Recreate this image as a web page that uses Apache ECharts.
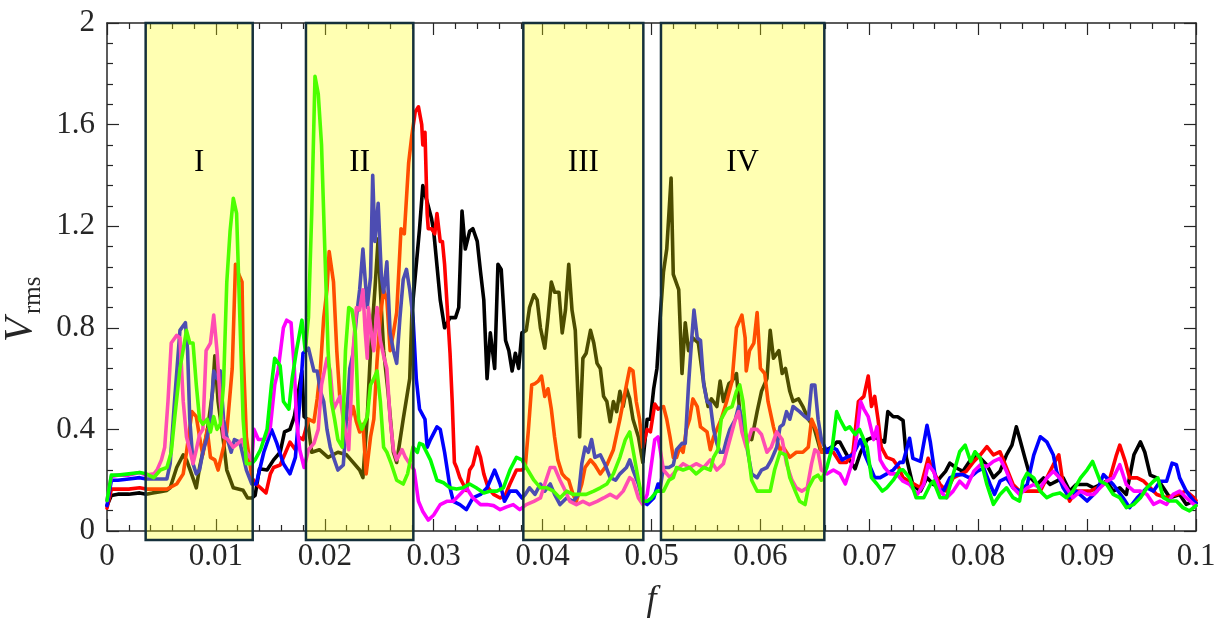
<!DOCTYPE html>
<html>
<head>
<meta charset="utf-8">
<script src="https://cdn.jsdelivr.net/npm/echarts@6/dist/echarts.min.js"></script>
<style>
  html, body { margin: 0; padding: 0; background: #ffffff; }
  #chart { width: 1223px; height: 624px; }
</style>
</head>
<body>
<div id="chart"></div>
<script>
// Axis ranges
const fRange = [0, 0.1, 0.01];      // min, max, major step
const vRange = [0, 2, 0.4];

// Highlighted frequency bands
const bandStart = [0.00355, 0.01827, 0.03823, 0.05087];
const bandEnd   = [0.01338, 0.02813, 0.04925, 0.06587];
const bandNames = ['I', 'II', 'III', 'IV'];
const bandFloor = -0.035;
const bandLabelV = 1.45;

// V_rms(f) for the five runs, [f, V_rms]
const blackRun = [
  [0,0.10],[0.0004,0.14],[0.001,0.145],[0.002,0.145],[0.003,0.15],[0.0036,0.145],
  [0.0042,0.15],[0.0049,0.155],[0.0055,0.16],[0.0058,0.17],[0.0064,0.25],[0.0070,0.30],[0.0073,0.28],[0.0078,0.22],[0.0082,0.17],[0.0085,0.25],[0.0092,0.39],[0.0097,0.55],[0.0099,0.69],[0.0102,0.51],[0.0107,0.35],[0.011,0.24],[0.0116,0.17],[0.0125,0.16],[0.0129,0.13],[0.0133,0.13],
  [0.0136,0.14],[0.014,0.245],[0.0147,0.24],[0.0153,0.28],[0.0159,0.31],[0.0163,0.39],[0.0168,0.40],[0.0172,0.45],[0.0177,0.58],[0.0179,0.63],[0.0181,0.45],[0.0184,0.44],
  [0.0188,0.31],[0.0195,0.32],[0.0203,0.29],[0.0212,0.31],[0.022,0.30],[0.0226,0.27],[0.0232,0.24],[0.0235,0.21],[0.0239,0.45],[0.0242,0.71],[0.0246,0.95],[0.0249,1.15],[0.0251,0.95],[0.0254,0.71],[0.0258,0.55],[0.0263,0.31],[0.0266,0.27],[0.0272,0.44],[0.0278,0.60],[0.028,0.86],
  [0.0287,1.19],[0.029,1.36],[0.0298,1.23],[0.03,1.18],[0.0306,0.91],[0.031,0.80],[0.0315,0.84],[0.032,0.84],[0.0323,0.88],[0.0326,1.26],[0.0329,1.11],[0.0333,1.18],[0.0336,1.19],[0.034,1.14],[0.0343,1.02],[0.0346,0.91],[0.0349,0.60],[0.0352,0.78],[0.0356,0.64],[0.0359,1.05],[0.0362,1.03],[0.0366,0.75],[0.0369,0.71],[0.0372,0.63],[0.0375,0.70],[0.0378,0.64],[0.0381,0.78],
  [0.0385,0.79],[0.0388,0.88],[0.0392,0.93],[0.0395,0.91],[0.0398,0.80],[0.0402,0.72],[0.0405,0.84],[0.0408,0.98],[0.0411,0.94],[0.0415,0.94],[0.0418,0.78],[0.0421,0.87],[0.0424,1.05],[0.0427,0.87],[0.043,0.79],[0.0434,0.37],[0.0437,0.68],[0.044,0.70],[0.0444,0.79],[0.0447,0.74],[0.045,0.66],[0.0453,0.64],[0.0456,0.53],[0.0459,0.51],[0.0462,0.43],[0.0465,0.51],[0.0468,0.47],[0.0471,0.55],[0.0474,0.49],[0.0477,0.56],[0.048,0.52],[0.0483,0.44],[0.0488,0.37],[0.0492,0.27],
  [0.0496,0.44],[0.0499,0.44],[0.0502,0.56],[0.0505,0.64],[0.0508,0.84],
  [0.0511,1.02],[0.0514,1.11],[0.0518,1.39],[0.052,1.01],[0.0525,0.95],[0.0528,0.62],[0.0531,0.82],[0.0534,0.71],[0.0538,0.76],[0.0543,0.74],[0.0548,0.58],[0.0552,0.49],[0.0555,0.52],[0.056,0.49],[0.0563,0.59],[0.0566,0.51],[0.0571,0.58],[0.0574,0.59],[0.0578,0.62],[0.0581,0.47],[0.0587,0.37],[0.0592,0.36],[0.0597,0.47],[0.0601,0.55],[0.0606,0.60],[0.0609,0.79],[0.0612,0.68],[0.0617,0.71],[0.062,0.62],[0.0623,0.64],[0.0627,0.55],[0.063,0.51],[0.0635,0.52],[0.0639,0.49],[0.0644,0.44],[0.0649,0.41],[0.0655,0.32],[0.0659,0.32],
  [0.0661,0.32],[0.0666,0.33],[0.067,0.35],[0.0673,0.35],[0.0678,0.31],[0.0682,0.28],[0.0687,0.245],[0.0692,0.31],[0.0698,0.36],[0.0704,0.37],[0.071,0.36],[0.0714,0.35],[0.0717,0.47],[0.0722,0.45],[0.0726,0.45],[0.0731,0.435],[0.0734,0.29],[0.074,0.18],[0.0747,0.157],[0.0753,0.21],[0.0759,0.183],[0.0765,0.21],[0.077,0.235],[0.0774,0.267],[0.078,0.248],[0.0786,0.235],[0.0792,0.274],[0.0799,0.30],[0.0808,0.26],[0.0814,0.21],[0.082,0.235],[0.0826,0.30],[0.0831,0.338],[0.0835,0.41],[0.0838,0.365],[0.0843,0.286],[0.0848,0.21],[0.0854,0.183],[0.086,0.209],[0.0866,0.183],[0.0872,0.196],[0.0878,0.209],[0.0884,0.157],[0.089,0.183],[0.09,0.183],[0.0906,0.17],[0.0912,0.183],[0.0918,0.196],[0.0924,0.157],[0.093,0.17],[0.0936,0.144],[0.0943,0.30],[0.0949,0.351],[0.0953,0.31],[0.0958,0.22],[0.0964,0.209],[0.097,0.17],[0.0976,0.131],[0.0985,0.144],[0.0991,0.105],[0.0998,0.118],[0.1,0.11]
];

const redRun = [
  [0,0.09],[0.0004,0.165],[0.001,0.165],[0.002,0.165],[0.003,0.17],[0.0036,0.165],
  [0.0042,0.165],[0.0055,0.165],[0.0064,0.185],[0.007,0.225],[0.0073,0.31],[0.0078,0.47],[0.0082,0.45],[0.0085,0.37],[0.0088,0.30],[0.0092,0.40],[0.0095,0.29],[0.0099,0.28],[0.0102,0.24],[0.0107,0.33],[0.011,0.39],[0.0115,0.64],[0.0118,1.05],[0.0121,1.01],[0.0124,0.98],[0.0125,0.71],[0.0128,0.37],[0.0133,0.21],
  [0.0137,0.185],[0.0141,0.17],[0.0146,0.15],[0.015,0.225],[0.0153,0.25],[0.0159,0.26],[0.0165,0.32],[0.0168,0.35],[0.0173,0.32],[0.0176,0.37],[0.018,0.36],
  [0.0185,0.44],[0.019,0.43],[0.0193,0.52],[0.0196,0.64],[0.0199,0.84],[0.0202,0.95],[0.0204,1.10],[0.0208,0.98],[0.0211,0.71],[0.0214,0.51],[0.0217,0.51],[0.022,0.44],[0.0223,0.44],[0.0226,0.49],[0.0229,0.43],[0.0232,0.39],[0.0235,0.42],[0.0238,0.225],[0.0242,0.37],[0.0245,0.44],[0.0248,0.67],[0.0251,0.84],[0.0254,0.95],[0.0257,0.91],[0.026,0.71],[0.0263,0.78],[0.0266,0.86],[0.027,1.19],[0.0273,1.17],[0.0277,1.45],[0.028,1.56],
  [0.0283,1.65],[0.0286,1.67],[0.0289,1.60],[0.029,1.52],[0.0292,1.57],[0.0294,1.25],[0.0295,1.19],[0.0298,1.19],[0.0301,1.17],[0.0303,1.25],[0.0306,1.14],[0.0308,1.14],[0.031,1.05],[0.0315,0.70],[0.0317,0.51],[0.0319,0.27],[0.0321,0.25],[0.0324,0.21],[0.0327,0.185],[0.033,0.16],[0.0333,0.24],[0.0336,0.26],[0.034,0.33],[0.0343,0.29],[0.0346,0.225],[0.035,0.17],[0.0355,0.144],[0.0361,0.13],[0.0366,0.144],[0.037,0.185],[0.0376,0.24],[0.0381,0.24],
  [0.0384,0.25],[0.0387,0.40],[0.039,0.575],[0.0393,0.58],[0.0396,0.59],[0.0399,0.61],[0.0402,0.53],[0.0405,0.56],[0.0408,0.48],[0.0411,0.37],[0.0414,0.28],[0.0418,0.225],[0.0421,0.21],[0.0424,0.20],[0.0428,0.144],[0.0431,0.117],[0.0436,0.185],[0.0439,0.25],[0.0444,0.28],[0.0448,0.26],[0.0453,0.225],[0.0459,0.26],[0.0465,0.32],[0.0471,0.44],[0.0477,0.575],[0.048,0.64],[0.0483,0.63],[0.0486,0.51],[0.0489,0.44],[0.0492,0.33],
  [0.0496,0.40],[0.0499,0.39],[0.0503,0.50],[0.0506,0.48],
  [0.0511,0.49],[0.0514,0.44],[0.0517,0.37],[0.052,0.29],[0.0523,0.29],[0.0526,0.33],[0.0529,0.31],[0.0532,0.40],[0.0535,0.44],[0.0538,0.52],[0.0542,0.49],[0.0545,0.41],[0.0548,0.40],[0.0551,0.39],[0.0554,0.32],[0.0557,0.37],[0.0561,0.41],[0.0564,0.44],[0.0569,0.51],[0.0574,0.59],[0.0578,0.80],[0.0583,0.85],[0.0586,0.76],[0.0587,0.63],[0.059,0.71],[0.0594,0.74],[0.0597,0.86],[0.06,0.64],[0.0604,0.62],[0.0607,0.51],[0.0612,0.41],[0.0615,0.36],[0.0618,0.32],[0.0621,0.33],[0.0627,0.29],[0.0633,0.31],[0.0639,0.31],[0.0644,0.33],[0.0647,0.44],[0.0652,0.39],[0.0656,0.31],
  [0.0661,0.31],[0.0667,0.31],[0.0673,0.27],[0.0679,0.27],[0.0685,0.31],[0.069,0.51],[0.0695,0.53],[0.0699,0.61],[0.0702,0.49],[0.0705,0.53],[0.0708,0.44],[0.0711,0.33],[0.0716,0.29],[0.0722,0.28],[0.0727,0.25],[0.0731,0.21],
  [0.0735,0.20],[0.0747,0.17],[0.0754,0.286],[0.0759,0.235],[0.0765,0.183],[0.0771,0.157],[0.0777,0.209],[0.0783,0.222],[0.0789,0.235],[0.0796,0.274],[0.0802,0.30],[0.0808,0.332],[0.0814,0.30],[0.082,0.312],[0.0826,0.248],[0.0832,0.183],[0.0838,0.157],[0.0845,0.157],[0.0851,0.157],[0.0857,0.157],[0.0863,0.209],[0.0869,0.261],[0.0874,0.30],[0.0878,0.183],[0.0884,0.118],[0.089,0.157],[0.0897,0.157],[0.0903,0.157],[0.0909,0.17],[0.0915,0.183],[0.0921,0.209],[0.0927,0.30],[0.093,0.338],[0.0935,0.274],[0.0939,0.209],[0.0946,0.209],[0.0952,0.196],[0.0958,0.17],[0.0964,0.144],[0.0973,0.131],[0.0982,0.144],[0.0991,0.157],[0.0998,0.131],[0.1,0.12]
];

const blueRun = [
  [0,0.10],[0.0004,0.20],[0.001,0.20],[0.002,0.205],[0.003,0.21],[0.0036,0.205],
  [0.0042,0.205],[0.0055,0.205],[0.0058,0.265],[0.0062,0.51],[0.0067,0.79],[0.0072,0.82],[0.0074,0.71],[0.0076,0.44],[0.0079,0.265],[0.0082,0.225],[0.0085,0.24],[0.0088,0.31],[0.0092,0.37],[0.0095,0.44],[0.0098,0.63],[0.0101,0.60],[0.0104,0.63],[0.0107,0.44],[0.011,0.37],[0.0114,0.31],[0.0117,0.36],[0.0122,0.35],[0.0128,0.24],[0.0133,0.185],
  [0.0137,0.185],[0.0144,0.31],[0.0148,0.36],[0.0151,0.40],[0.0156,0.345],[0.0162,0.265],[0.0168,0.225],[0.0173,0.29],[0.0177,0.51],[0.018,0.70],
  [0.0185,0.72],[0.019,0.63],[0.0193,0.63],[0.0196,0.55],[0.0199,0.51],[0.0202,0.40],[0.0205,0.33],[0.0208,0.29],[0.0212,0.24],[0.0217,0.26],[0.0223,0.64],[0.0226,0.70],[0.0229,0.84],[0.0232,0.95],[0.0235,1.11],[0.0239,0.88],[0.0242,1.0],[0.0244,1.40],[0.0246,1.14],[0.0249,1.29],[0.0252,1.0],[0.0254,0.94],[0.0257,1.06],[0.026,0.78],[0.0263,0.71],[0.0266,0.66],[0.0269,0.84],[0.0272,0.99],[0.0275,1.03],[0.0278,0.95],[0.0281,0.84],
  [0.0284,0.60],[0.0287,0.48],[0.0292,0.44],[0.0294,0.33],[0.0297,0.36],[0.0303,0.41],[0.0306,0.40],[0.031,0.31],[0.0315,0.17],[0.0318,0.117],[0.0324,0.104],[0.033,0.084],[0.0336,0.13],[0.0343,0.144],[0.0349,0.17],[0.0352,0.20],[0.0356,0.24],[0.0361,0.185],[0.0365,0.117],[0.037,0.157],[0.0376,0.157],[0.0381,0.13],
  [0.0384,0.144],[0.0388,0.17],[0.0393,0.144],[0.0398,0.185],[0.0402,0.157],[0.0407,0.185],[0.0411,0.144],[0.0416,0.104],[0.0422,0.13],[0.0428,0.117],[0.0433,0.144],[0.0436,0.265],[0.0439,0.33],[0.0442,0.31],[0.0445,0.36],[0.0448,0.29],[0.0453,0.30],[0.0457,0.265],[0.0462,0.21],[0.0467,0.20],[0.0471,0.225],[0.0477,0.25],[0.048,0.28],[0.0483,0.24],[0.0488,0.185],[0.0492,0.117],
  [0.0496,0.104],[0.0502,0.13],[0.0506,0.185],[0.0508,0.17],
  [0.0511,0.25],[0.0516,0.25],[0.052,0.26],[0.0523,0.32],[0.0528,0.345],[0.0531,0.345],[0.0534,0.575],[0.0537,0.76],[0.0539,0.87],[0.0542,0.76],[0.0545,0.75],[0.0548,0.575],[0.0551,0.51],[0.0554,0.50],[0.0557,0.40],[0.056,0.345],[0.0563,0.31],[0.0566,0.31],[0.0569,0.36],[0.0572,0.40],[0.0577,0.44],[0.058,0.49],[0.0583,0.44],[0.0587,0.345],[0.0592,0.225],[0.0597,0.21],[0.0601,0.24],[0.0606,0.25],[0.061,0.28],[0.0615,0.33],[0.0618,0.41],[0.0621,0.42],[0.0624,0.47],[0.0627,0.44],[0.063,0.49],[0.0636,0.47],[0.0641,0.45],[0.0644,0.44],[0.0647,0.575],[0.065,0.575],[0.0653,0.44],[0.0656,0.36],
  [0.0661,0.31],[0.0665,0.33],[0.067,0.32],[0.0675,0.28],[0.0679,0.29],[0.0685,0.30],[0.0692,0.36],[0.0696,0.30],[0.0701,0.25],[0.0705,0.21],[0.071,0.21],[0.0716,0.225],[0.0722,0.24],[0.0728,0.27],
  [0.0731,0.27],[0.0737,0.365],[0.074,0.286],[0.0747,0.274],[0.0753,0.416],[0.0756,0.351],[0.0759,0.261],[0.0762,0.17],[0.0768,0.157],[0.0774,0.209],[0.078,0.222],[0.0786,0.222],[0.0792,0.209],[0.0799,0.235],[0.0805,0.248],[0.0811,0.183],[0.0815,0.144],[0.082,0.196],[0.0826,0.209],[0.0832,0.17],[0.0838,0.157],[0.0845,0.183],[0.0851,0.299],[0.0857,0.371],[0.0863,0.351],[0.0869,0.299],[0.0872,0.235],[0.0878,0.17],[0.0884,0.131],[0.089,0.157],[0.09,0.118],[0.0909,0.157],[0.0915,0.222],[0.0924,0.183],[0.0933,0.131],[0.0939,0.092],[0.0946,0.131],[0.0955,0.17],[0.0961,0.157],[0.0967,0.196],[0.0973,0.196],[0.0978,0.267],[0.0982,0.261],[0.0985,0.209],[0.0991,0.157],[0.0998,0.118],[0.1,0.11]
];

const magentaRun = [
  [0,0.12],[0.0004,0.215],[0.001,0.22],[0.002,0.22],[0.003,0.23],[0.0036,0.22],
  [0.0043,0.225],[0.0046,0.24],[0.005,0.28],[0.0053,0.33],[0.0056,0.51],[0.0059,0.74],[0.0064,0.77],[0.0067,0.76],[0.007,0.51],[0.0073,0.37],[0.0076,0.32],[0.0079,0.265],[0.0082,0.32],[0.0085,0.38],[0.0088,0.40],[0.0091,0.71],[0.0095,0.74],[0.0098,0.85],[0.0101,0.71],[0.0104,0.51],[0.0107,0.37],[0.0111,0.36],[0.0116,0.33],[0.0119,0.34],[0.0124,0.36],[0.0128,0.31],[0.0133,0.28],
  [0.0135,0.40],[0.0139,0.36],[0.0145,0.36],[0.015,0.41],[0.0154,0.575],[0.0157,0.63],[0.0162,0.80],[0.0165,0.83],[0.0169,0.82],[0.0172,0.64],[0.0174,0.44],[0.0177,0.32],[0.0181,0.25],
  [0.0185,0.32],[0.019,0.345],[0.0194,0.40],[0.0197,0.575],[0.0202,0.68],[0.0205,0.63],[0.0208,0.48],[0.0214,0.53],[0.0217,0.44],[0.0222,0.32],[0.0226,0.71],[0.0229,0.88],[0.0232,0.87],[0.0235,0.95],[0.0237,0.79],[0.0239,0.68],[0.024,0.88],[0.0243,0.77],[0.0245,0.71],[0.0248,0.88],[0.0251,0.75],[0.0254,0.69],[0.0257,0.64],[0.026,0.44],[0.0263,0.32],[0.0266,0.28],[0.0271,0.32],[0.0274,0.29],[0.0278,0.265],
  [0.0282,0.24],[0.0286,0.117],[0.029,0.077],[0.0295,0.043],[0.03,0.063],[0.0306,0.104],[0.0312,0.117],[0.0318,0.117],[0.0324,0.144],[0.033,0.17],[0.0336,0.13],[0.0343,0.104],[0.0349,0.104],[0.0355,0.10],[0.0361,0.084],[0.0367,0.095],[0.0373,0.104],[0.0379,0.084],
  [0.0385,0.104],[0.0392,0.117],[0.0398,0.13],[0.0402,0.185],[0.0407,0.25],[0.0411,0.25],[0.0416,0.20],[0.0421,0.157],[0.0425,0.117],[0.0431,0.104],[0.0437,0.117],[0.0443,0.104],[0.045,0.117],[0.0456,0.13],[0.0462,0.144],[0.0468,0.13],[0.0474,0.157],[0.048,0.21],[0.0483,0.20],[0.0488,0.13],[0.0492,0.104],
  [0.0496,0.144],[0.05,0.265],[0.0503,0.36],[0.0506,0.37],
  [0.0508,0.32],[0.0511,0.24],[0.0517,0.21],[0.0523,0.24],[0.0529,0.265],[0.0535,0.25],[0.0541,0.265],[0.0548,0.25],[0.0554,0.28],[0.056,0.24],[0.0566,0.265],[0.0572,0.36],[0.0577,0.44],[0.058,0.47],[0.0583,0.39],[0.0587,0.33],[0.0592,0.40],[0.0597,0.40],[0.0601,0.38],[0.0606,0.31],[0.061,0.33],[0.0615,0.39],[0.062,0.36],[0.0624,0.265],[0.0629,0.20],[0.0633,0.17],[0.0638,0.157],[0.0643,0.17],[0.0647,0.265],[0.065,0.32],[0.0653,0.31],[0.0656,0.24],
  [0.0661,0.225],[0.0667,0.24],[0.0673,0.225],[0.0678,0.185],[0.0685,0.28],[0.0688,0.36],[0.0692,0.51],[0.0695,0.48],[0.0699,0.45],[0.0704,0.36],[0.0707,0.41],[0.071,0.28],[0.0714,0.25],[0.0719,0.225],[0.0725,0.225],
  [0.0731,0.196],[0.0737,0.183],[0.0744,0.144],[0.075,0.183],[0.0754,0.261],[0.0759,0.235],[0.0765,0.157],[0.0771,0.131],[0.0777,0.157],[0.0783,0.196],[0.0789,0.17],[0.0796,0.235],[0.0802,0.261],[0.0808,0.254],[0.0814,0.274],[0.082,0.286],[0.0826,0.235],[0.0832,0.17],[0.0838,0.144],[0.0845,0.17],[0.0851,0.183],[0.0857,0.17],[0.0863,0.209],[0.0869,0.235],[0.0875,0.209],[0.0881,0.17],[0.0887,0.131],[0.0894,0.157],[0.09,0.144],[0.0906,0.144],[0.0912,0.17],[0.0918,0.196],[0.0924,0.209],[0.093,0.261],[0.0936,0.183],[0.0943,0.157],[0.0949,0.157],[0.0955,0.144],[0.0961,0.105],[0.0967,0.118],[0.0973,0.105],[0.0979,0.144],[0.0985,0.157],[0.0991,0.131],[0.0998,0.105],[0.1,0.10]
];

const greenRun = [
  [0,0.12],[0.0004,0.22],[0.001,0.22],[0.002,0.225],[0.003,0.23],[0.0036,0.225],
  [0.0043,0.21],[0.0049,0.24],[0.0055,0.25],[0.0059,0.31],[0.0062,0.44],[0.0067,0.64],[0.0073,0.79],[0.0076,0.74],[0.0079,0.74],[0.0082,0.575],[0.0085,0.44],[0.0088,0.42],[0.0092,0.44],[0.0095,0.39],[0.0098,0.45],[0.0101,0.40],[0.0104,0.42],[0.0107,0.575],[0.011,0.98],[0.0113,1.18],[0.0116,1.31],[0.0119,1.25],[0.0122,0.84],[0.0125,0.44],[0.0128,0.265],[0.0133,0.265],
  [0.0136,0.28],[0.0141,0.32],[0.0147,0.40],[0.0151,0.575],[0.0154,0.68],[0.0159,0.65],[0.0162,0.51],[0.0167,0.48],[0.017,0.60],[0.0174,0.71],[0.0179,0.83],[0.0182,0.71],
  [0.0185,0.84],[0.0188,1.25],[0.0191,1.79],[0.0194,1.72],[0.0197,1.52],[0.02,1.11],[0.0203,0.71],[0.0206,0.51],[0.0209,0.44],[0.0212,0.36],[0.0216,0.33],[0.0219,0.71],[0.0222,0.88],[0.0225,0.87],[0.0228,0.78],[0.0231,0.44],[0.0234,0.40],[0.0239,0.45],[0.0242,0.575],[0.0245,0.60],[0.0248,0.63],[0.0251,0.51],[0.0254,0.33],[0.0257,0.31],[0.0261,0.265],[0.0266,0.20],[0.0272,0.185],[0.0276,0.225],[0.0281,0.33],
  [0.0285,0.31],[0.0287,0.345],[0.029,0.34],[0.0297,0.28],[0.0303,0.20],[0.0309,0.19],[0.0315,0.17],[0.0321,0.165],[0.0327,0.17],[0.0333,0.185],[0.0339,0.17],[0.0346,0.15],[0.0352,0.157],[0.0358,0.157],[0.0364,0.17],[0.037,0.24],[0.0376,0.29],[0.0381,0.28],
  [0.0385,0.25],[0.0392,0.20],[0.0398,0.17],[0.0404,0.17],[0.041,0.157],[0.0416,0.13],[0.0422,0.157],[0.0428,0.144],[0.0434,0.144],[0.044,0.144],[0.0447,0.157],[0.0453,0.17],[0.0459,0.185],[0.0465,0.225],[0.0471,0.29],[0.0476,0.36],[0.048,0.39],[0.0483,0.32],[0.0488,0.20],[0.0492,0.117],
  [0.0496,0.117],[0.05,0.13],[0.0505,0.157],
  [0.0511,0.157],[0.0516,0.20],[0.052,0.21],[0.0523,0.25],[0.0529,0.24],[0.0535,0.25],[0.0541,0.225],[0.0548,0.25],[0.0554,0.24],[0.0557,0.29],[0.0561,0.32],[0.0564,0.44],[0.0569,0.48],[0.0574,0.49],[0.0578,0.55],[0.0581,0.575],[0.0584,0.51],[0.0587,0.37],[0.0592,0.20],[0.0597,0.157],[0.0603,0.157],[0.0609,0.157],[0.0613,0.24],[0.0618,0.31],[0.0623,0.30],[0.0627,0.21],[0.0632,0.157],[0.0636,0.117],[0.0641,0.104],[0.0644,0.17],[0.0649,0.21],[0.0653,0.22],[0.0656,0.20],
  [0.0661,0.25],[0.0666,0.33],[0.067,0.47],[0.0673,0.44],[0.0678,0.40],[0.0682,0.41],[0.0687,0.38],[0.0691,0.40],[0.0698,0.33],[0.0702,0.21],[0.0707,0.185],[0.0712,0.157],[0.0716,0.17],[0.0722,0.20],[0.0728,0.24],
  [0.0731,0.241],[0.0737,0.209],[0.0743,0.131],[0.075,0.131],[0.0756,0.183],[0.0759,0.196],[0.0765,0.131],[0.0771,0.131],[0.0777,0.222],[0.0783,0.312],[0.0788,0.338],[0.0793,0.274],[0.0797,0.312],[0.0802,0.286],[0.0808,0.183],[0.0814,0.105],[0.082,0.144],[0.0826,0.17],[0.0832,0.131],[0.0838,0.118],[0.0841,0.196],[0.0845,0.228],[0.0851,0.209],[0.0857,0.157],[0.0863,0.131],[0.0869,0.144],[0.0875,0.15],[0.0881,0.131],[0.0887,0.157],[0.0894,0.209],[0.09,0.241],[0.0905,0.274],[0.0912,0.196],[0.0918,0.183],[0.0924,0.144],[0.093,0.131],[0.0936,0.092],[0.0943,0.105],[0.0949,0.131],[0.0955,0.17],[0.0961,0.196],[0.0965,0.209],[0.097,0.131],[0.0976,0.118],[0.0982,0.118],[0.0988,0.092],[0.0994,0.079],[0.1,0.10]
];

const runs = [
  { data: blackRun,   color: '#000000' },
  { data: redRun,     color: '#ff0000' },
  { data: blueRun,    color: '#0000ff' },
  { data: magentaRun, color: '#ff00ff' },
  { data: greenRun,   color: '#00ff00' }
];

const serif = '"Liberation Serif", "Times New Roman", serif';
const ink = '#262626';

const chart = echarts.init(document.getElementById('chart'), null, { renderer: 'canvas' });

const axisCommon = {
  type: 'value',
  axisLine: { show: true, onZero: false, lineStyle: { color: ink, width: 1.5 } },
  axisTick: { show: true, inside: true, length: 12, lineStyle: { color: ink, width: 1.2 } },
  minorTick: { show: true, splitNumber: 5, length: 6, lineStyle: { color: ink, width: 1.2 } },
  splitLine: { show: false },
  minorSplitLine: { show: false }
};

const xBase = Object.assign({}, axisCommon, { min: fRange[0], max: fRange[1], interval: fRange[2] });
const yBase = Object.assign({}, axisCommon, { min: vRange[0], max: vRange[1], interval: vRange[2] });

const lineSeries = runs.map(r => ({
  type: 'line',
  data: r.data,
  xAxisIndex: 0,
  yAxisIndex: 0,
  showSymbol: false,
  symbol: 'none',
  z: 2,
  lineStyle: { color: r.color, width: 3.6, join: 'round', cap: 'round' },
  itemStyle: { color: r.color },
  emphasis: { disabled: true }
}));

const bandRows = bandStart.map((s, i) => [s, bandEnd[i]]);

// Translucent yellow bands drawn above the curves and axes
const bandSeries = {
  type: 'custom',
  xAxisIndex: 0,
  yAxisIndex: 0,
  z: 10,
  clip: false,
  silent: true,
  data: bandRows,
  renderItem: function (params, api) {
    const i = params.dataIndex;
    const p0 = api.coord([api.value(0), vRange[1]]);
    const p1 = api.coord([api.value(1), bandFloor]);
    const pl = api.coord([(api.value(0) + api.value(1)) / 2, bandLabelV]);
    return {
      type: 'group',
      children: [
        {
          type: 'rect',
          shape: { x: p0[0], y: p0[1], width: p1[0] - p0[0], height: p1[1] - p0[1] },
          style: { fill: 'rgba(255,255,0,0.3)', stroke: '#15303b', lineWidth: 2.5 }
        },
        {
          type: 'text',
          x: pl[0],
          y: pl[1],
          style: {
            text: bandNames[i],
            fill: '#000000',
            fontSize: 31,
            fontFamily: serif,
            align: 'center',
            verticalAlign: 'middle'
          }
        }
      ]
    };
  }
};

chart.setOption({
  animation: false,
  backgroundColor: '#ffffff',
  grid: { left: 107, right: 27, top: 23, bottom: 87, containLabel: false },
  xAxis: [
    Object.assign({}, xBase, {
      position: 'bottom',
      name: 'f',
      nameLocation: 'middle',
      nameGap: 52,
      nameTextStyle: { fontFamily: serif, fontStyle: 'italic', fontSize: 36, color: ink },
      axisLabel: { show: true, fontFamily: serif, fontSize: 31, color: ink, margin: 10 }
    }),
    Object.assign({}, xBase, {
      position: 'top',
      axisLabel: { show: false }
    })
  ],
  yAxis: [
    Object.assign({}, yBase, {
      position: 'left',
      axisLabel: { show: true, fontFamily: serif, fontSize: 31, color: ink, margin: 12 }
    }),
    Object.assign({}, yBase, {
      position: 'right',
      axisLabel: { show: false }
    })
  ],
  graphic: [
    {
      // rotated axis title V_rms
      type: 'group',
      x: 40,
      y: 342,
      rotation: Math.PI / 2,
      silent: true,
      children: [
        {
          type: 'text',
          x: 0,
          y: 0,
          style: { text: 'V', fontSize: 40, fontStyle: 'italic', fontFamily: serif, fill: ink, align: 'left', verticalAlign: 'bottom' }
        },
        {
          type: 'text',
          x: 28,
          y: 6,
          style: { text: 'rms', fontSize: 25, fontFamily: serif, fill: ink, align: 'left', verticalAlign: 'bottom' }
        }
      ]
    }
  ],
  series: lineSeries.concat([bandSeries])
});
</script>
</body>
</html>
